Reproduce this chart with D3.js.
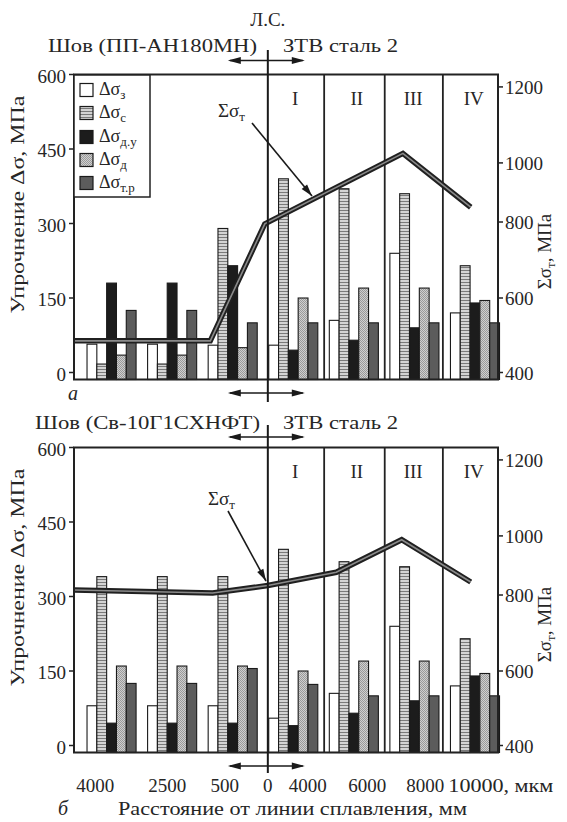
<!DOCTYPE html>
<html><head><meta charset="utf-8">
<script src="https://cdn.jsdelivr.net/npm/d3@7"></script>
<style>
html,body{margin:0;padding:0;background:#fff;}
svg text{font-family:"Liberation Serif","Times New Roman",serif;fill:#262626;}
</style></head>
<body><svg id="c" width="567" height="822"></svg>
<script>
// ---------- data ----------
const groups = ["4000", "2500", "500", "I", "II", "III", "IV"];
const seriesNames = ["з", "с", "д.у", "д", "т.р"]; // subscripts of Δσ
// panel a (ПП-АН180МН), MPa, per group: [Δσз, Δσс, Δσд.у, Δσд, Δσт.р]
const barsA = [
  [57, 17, 180, 35, 125],
  [57, 17, 180, 35, 125],
  [55, 290, 215, 50, 100],
  [55, 390, 45, 150, 100],
  [105, 370, 65, 170, 100],
  [240, 360, 90, 170, 100],
  [120, 215, 140, 145, 100]
];
// panel b (Св-10Г1СХНФТ)
const barsB = [
  [80, 340, 45, 160, 125],
  [80, 340, 45, 160, 125],
  [80, 340, 45, 160, 155],
  [55, 395, 40, 150, 123],
  [105, 370, 65, 170, 100],
  [240, 360, 90, 170, 100],
  [120, 215, 140, 145, 100]
];
// Σσт curves: position (group slot units) and value, MPa (right axis)
const sumPosA = [0, 2.25, 3.15, 5.43, 6.55];
const sumValA = [485, 485, 795, 1025, 850];
const sumPosB = [0, 2.29, 3.2, 4.33, 5.41, 6.55];
const sumValB = [817, 807, 832, 877, 987, 844];
const leftTicks = [0, 150, 300, 450, 600];
const rightTicks = [400, 600, 800, 1000, 1200];
const zoneLabels = ["I", "II", "III", "IV"];
const xTickLabels = ["4000", "2500", "500", "0", "4000", "6000", "8000", "10000, мкм"];

// ---------- layout ----------
const svg = d3.select("#c");
const x = d3.scaleLinear().domain([0, 7]).range([74, 498]);
const zoneEdges = [3.2, 4.13, 5.13, 6.09];
const zoneCenters = [3.65, 4.67, 5.6, 6.6];
const xTickPos = [0.35, 1.54, 2.49, 3.2, 3.86, 4.84, 5.8, 6.18];
const barOff = 0.215, barStep = 0.162;

const defs = svg.append("defs");
const pS = defs.append("pattern").attr("id", "pS").attr("patternUnits", "userSpaceOnUse").attr("width", 4).attr("height", 3);
pS.append("rect").attr("width", 4).attr("height", 3).attr("fill", "#d4d4d4");
pS.append("line").attr("x1", 0).attr("x2", 4).attr("y1", 0.5).attr("y2", 0.5).attr("stroke", "#7a7a7a").attr("stroke-width", 1);
const pD = defs.append("pattern").attr("id", "pD").attr("patternUnits", "userSpaceOnUse").attr("width", 2).attr("height", 2);
pD.append("rect").attr("width", 2).attr("height", 2).attr("fill", "#cfcfcf");
pD.append("rect").attr("width", 1).attr("height", 1).attr("fill", "#9a9a9a");
pD.append("rect").attr("x", 1).attr("y", 1).attr("width", 1).attr("height", 1).attr("fill", "#9a9a9a");
const fills = ["#ffffff", "url(#pS)", "#1c1c1c", "url(#pD)", "#5c5c5c"];

function arrowHead(g, x1, y1, x2, y2, len, wid) {
  const a = Math.atan2(y2 - y1, x2 - x1);
  const p = [
    [x2, y2],
    [x2 - len * Math.cos(a) + wid * Math.sin(a), y2 - len * Math.sin(a) - wid * Math.cos(a)],
    [x2 - len * Math.cos(a) - wid * Math.sin(a), y2 - len * Math.sin(a) + wid * Math.cos(a)]
  ];
  g.append("path").attr("d", d3.line()(p) + "Z").attr("fill", "#1a1a1a");
}

function panel(cfg) {
  const g = svg.append("g");
  const y = d3.scaleLinear().domain([0, 600]).range([cfg.y0, cfg.y0 - 298]);
  const yr = d3.scaleLinear().domain(rightTicks).range([y(0), y(150), y(303), y(422), y(575)]);
  const top = y(600), bottom = y(0) + 7;
  const lsX = x(zoneEdges[0]);

  // header texts
  g.append("text").attr("x", cfg.weldX).attr("y", top - cfg.headOff).attr("font-size", 19)
    .attr("textLength", cfg.weldLen).attr("lengthAdjust", "spacingAndGlyphs").text(cfg.weld);
  g.append("text").attr("x", 283).attr("y", top - cfg.headOff).attr("font-size", 19)
    .attr("textLength", 115).attr("lengthAdjust", "spacingAndGlyphs").text("ЗТВ сталь 2");
  if (cfg.showLS) {
    g.append("text").attr("x", lsX).attr("y", 26).attr("text-anchor", "middle").attr("font-size", 19).text("Л.С.");
  }

  // bars
  cfg.data.forEach((vals, gi) => {
    vals.forEach((v, si) => {
      g.append("rect")
        .attr("x", x(gi + barOff + si * barStep))
        .attr("width", x(barStep) - x(0))
        .attr("y", y(v))
        .attr("height", bottom - y(v))
        .attr("fill", fills[si]).attr("stroke", "#1a1a1a").attr("stroke-width", 1.1);
    });
  });

  // zone lines
  zoneEdges.slice(1).forEach(z => {
    g.append("line").attr("x1", x(z)).attr("x2", x(z)).attr("y1", top).attr("y2", bottom)
      .attr("stroke", "#222").attr("stroke-width", 1.8);
  });
  zoneLabels.forEach((t, i) => {
    g.append("text").attr("x", x(zoneCenters[i])).attr("y", top + 30).attr("text-anchor", "middle").attr("font-size", 19).text(t);
  });

  // Σσт line
  const pts = cfg.sumPos.map((p, i) => [x(p), yr(cfg.sumVal[i])]);
  const ln = d3.line();
  g.append("path").attr("d", ln(pts)).attr("fill", "none").attr("stroke", "#202020").attr("stroke-width", 5.5).attr("stroke-linejoin", "miter");
  g.append("path").attr("d", ln(pts)).attr("fill", "none").attr("stroke", "#8a8a8a").attr("stroke-width", 1.6).attr("stroke-linejoin", "miter");

  // frame
  g.append("rect").attr("x", x(0)).attr("y", top).attr("width", x(7) - x(0)).attr("height", bottom - top)
    .attr("fill", "none").attr("stroke", "#222").attr("stroke-width", 2);

  // left axis
  leftTicks.forEach(t => {
    g.append("line").attr("x1", x(0) - 5).attr("x2", x(0)).attr("y1", y(t)).attr("y2", y(t)).attr("stroke", "#222").attr("stroke-width", 1.5);
    g.append("text").attr("x", x(0) - 8).attr("y", y(t) + 8).attr("text-anchor", "end").attr("font-size", 19).text(t);
  });
  // right axis
  rightTicks.forEach(t => {
    g.append("line").attr("x1", x(7)).attr("x2", x(7) + 5).attr("y1", yr(t)).attr("y2", yr(t)).attr("stroke", "#222").attr("stroke-width", 1.5);
    g.append("text").attr("x", x(7) + 7).attr("y", yr(t) + 7).attr("font-size", 19).text(t);
  });

  // axis titles
  const lt = g.append("text").attr("transform", `translate(24,${cfg.y0 - 168}) rotate(-90)`).attr("text-anchor", "middle")
    .attr("font-size", 19).attr("textLength", 218).attr("lengthAdjust", "spacingAndGlyphs");
  lt.text("Упрочнение Δσ, МПа");
  const rt = g.append("text").attr("transform", `translate(551,${cfg.y0 - 121}) rotate(-90)`).attr("text-anchor", "middle")
    .attr("font-size", 19);
  rt.append("tspan").text("Σσ");
  rt.append("tspan").attr("font-size", 13).attr("dy", 4).text("т");
  rt.append("tspan").attr("dy", -4).text(", МПа");

  // Л.С. vertical line and arrows
  g.append("line").attr("x1", lsX).attr("x2", lsX).attr("y1", cfg.lsTop).attr("y2", cfg.lsBot).attr("stroke", "#1a1a1a").attr("stroke-width", 2);
  [top - cfg.arrowTopOff, cfg.arrowBotY].forEach(ay => {
    g.append("line").attr("x1", lsX - 38).attr("x2", lsX + 35).attr("y1", ay).attr("y2", ay).attr("stroke", "#1a1a1a").attr("stroke-width", 1.5);
    arrowHead(g, lsX, ay, lsX - 40, ay, 13, 3.5);
    arrowHead(g, lsX, ay, lsX + 37, ay, 13, 3.5);
  });

  // Σσт annotation
  const st = g.append("text").attr("x", cfg.sLab[0]).attr("y", cfg.sLab[1]).attr("font-size", 19);
  st.append("tspan").text("Σσ");
  st.append("tspan").attr("font-size", 13).attr("dy", 4).text("т");
  g.append("line").attr("x1", cfg.sArr[0]).attr("y1", cfg.sArr[1]).attr("x2", cfg.sArr[2]).attr("y2", cfg.sArr[3]).attr("stroke", "#1a1a1a").attr("stroke-width", 1.6);
  arrowHead(g, cfg.sArr[0], cfg.sArr[1], cfg.sArr[2], cfg.sArr[3], 12, 3.5);

  return { g, y, top, bottom };
}

const A = panel({
  y0: 372.5, data: barsA, sumPos: sumPosA, sumVal: sumValA,
  weld: "Шов (ПП-АН180МН)", weldX: 48, weldLen: 209, showLS: true, headOff: 23, arrowTopOff: 14,
  lsTop: 50, lsBot: 402, arrowBotY: 393,
  sLab: [218, 117], sArr: [252, 123, 312, 196]
});
const B = panel({
  y0: 745.5, data: barsB, sumPos: sumPosB, sumVal: sumValB,
  weld: "Шов (Св-10Г1СХНФТ)", weldX: 35, weldLen: 225, showLS: false, headOff: 19, arrowTopOff: 10.5,
  lsTop: 425, lsBot: 773, arrowBotY: 766,
  sLab: [208, 505], sArr: [228, 511, 266, 581]
});

// legend (panel a)
const lg = A.g.append("g");
lg.append("rect").attr("x", 74).attr("y", 75).attr("width", 76).attr("height", 122).attr("fill", "#fff").attr("stroke", "#222").attr("stroke-width", 1.5);
const legY = [90, 113, 137, 160, 183];
seriesNames.forEach((s, i) => {
  lg.append("rect").attr("x", 80).attr("y", legY[i] - 6.5).attr("width", 13).attr("height", 13)
    .attr("fill", fills[i]).attr("stroke", "#1a1a1a").attr("stroke-width", 1.2);
  const t = lg.append("text").attr("x", 99).attr("y", legY[i] + 5).attr("font-size", 18);
  t.append("tspan").text("Δσ");
  t.append("tspan").attr("font-size", 13).attr("dy", 4).text(s);
});

// panel letters
svg.append("text").attr("x", 68).attr("y", 400).attr("font-size", 20).attr("font-style", "italic").text("а");
svg.append("text").attr("x", 58).attr("y", 815).attr("font-size", 20).attr("font-style", "italic").text("б");

// x tick labels (panel b)
xTickLabels.forEach((t, i) => {
  const last = i === xTickLabels.length - 1;
  svg.append("text").attr("x", x(xTickPos[i])).attr("y", 792)
    .attr("text-anchor", last ? "start" : "middle").attr("font-size", 19)
    .attr("textLength", last ? 105 : null).attr("lengthAdjust", "spacingAndGlyphs").text(t);
});
svg.append("text").attr("x", 118).attr("y", 815).attr("font-size", 19)
  .attr("textLength", 349).attr("lengthAdjust", "spacingAndGlyphs").text("Расстояние от линии сплавления, мм");
</script></body></html>
